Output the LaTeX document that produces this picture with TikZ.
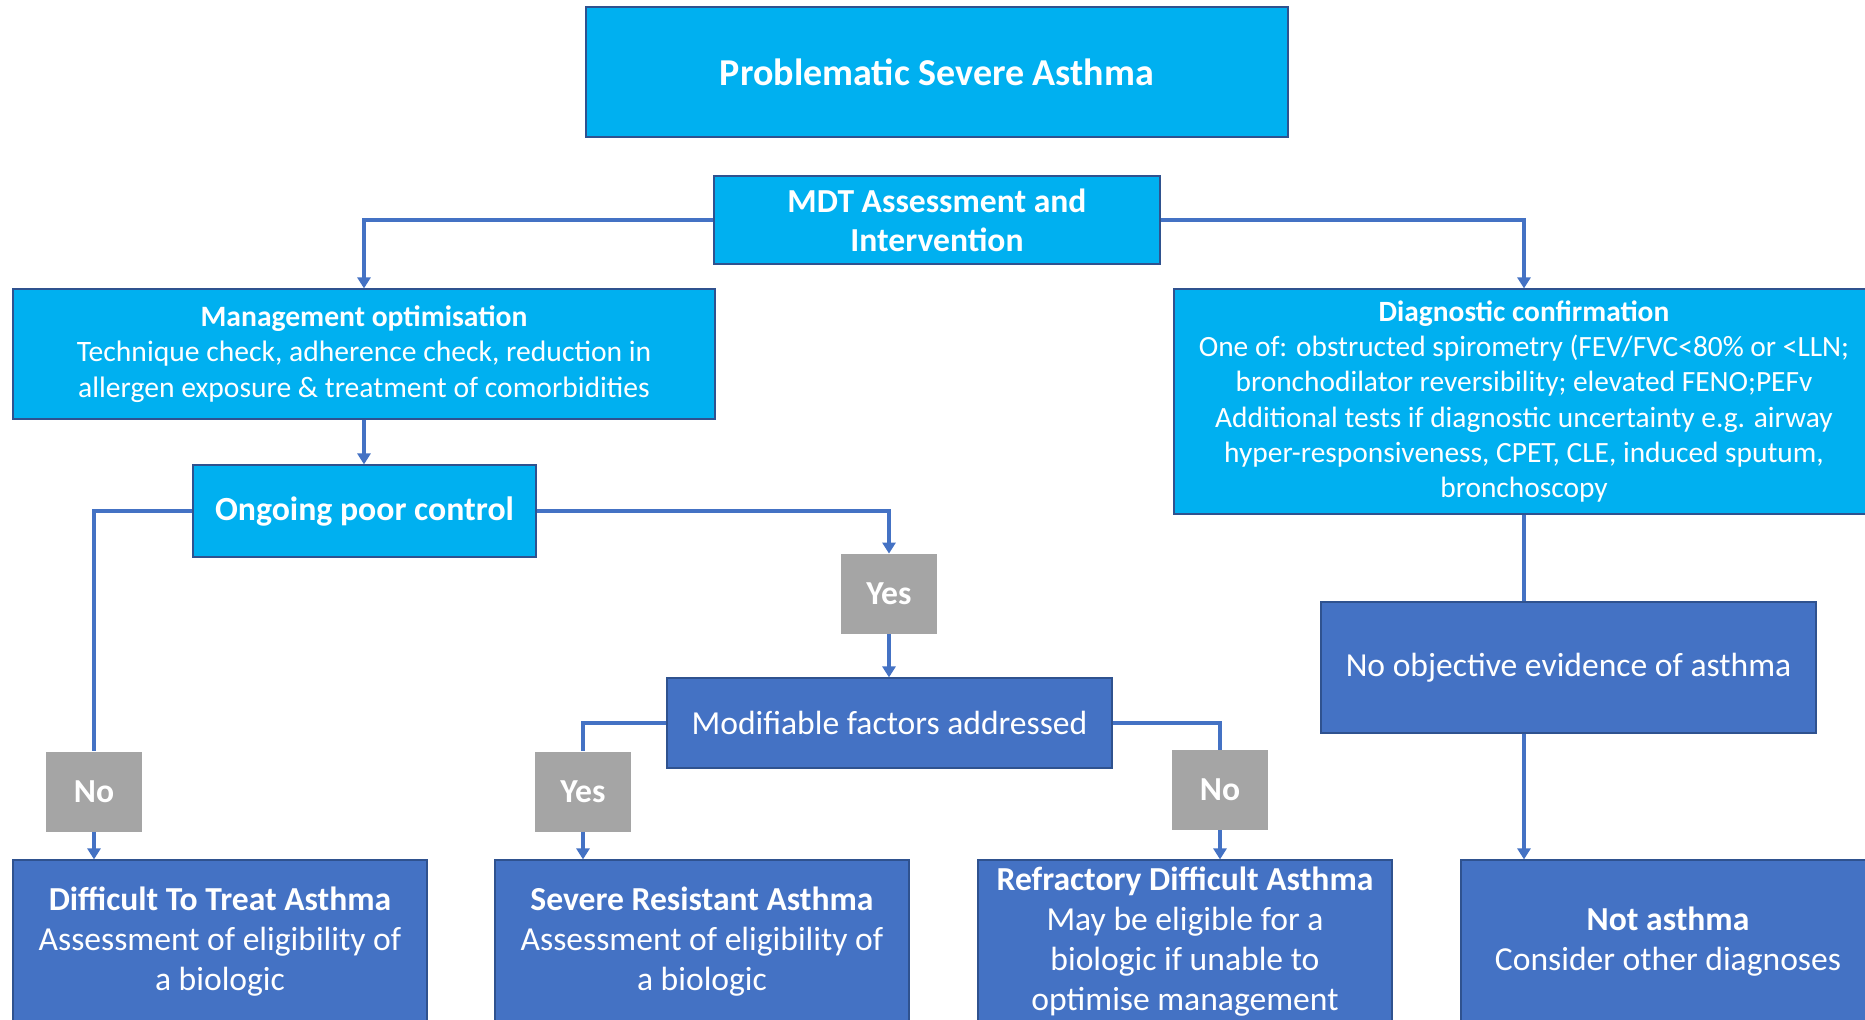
\documentclass[tikz,border=0pt]{standalone}
\usepackage{fontspec}
\setmainfont{Carlito}
\usepackage{tikz}
\usetikzlibrary{arrows.meta,shapes}
\usepackage{xcolor}
\definecolor{pacyan}{RGB}{0,176,240}
\definecolor{pablue}{RGB}{68,114,196}
\definecolor{pagrey}{RGB}{165,165,165}
\definecolor{paedge}{RGB}{47,82,143}
\tikzstyle{cyanbox} = [rectangle, align=center, draw=paedge, line width=0.6pt, fill=pacyan, text=white, inner sep=0pt]
\tikzstyle{bluebox} = [rectangle, align=center, draw=paedge, line width=0.6pt, fill=pablue, text=white, inner sep=0pt]
\tikzstyle{greybox} = [rectangle, align=center, fill=pagrey, text=white, font=\fontsize{16.8}{19}\selectfont\bfseries, minimum width=48pt, minimum height=40pt]
\tikzstyle{arrow} = [line width=1.6pt,-{Triangle[width=6.5pt,length=5.5pt]},color=pablue]
\tikzstyle{conn} = [line width=1.6pt,color=pablue]

\begin{document}
\begin{tikzpicture}[x=0.5pt,y=-0.5pt]
\useasboundingbox (0,0) rectangle (1865,1019);
\clip (0,0) rectangle (1865,1019);
% Top of the pathway
\node (psa) [cyanbox, minimum width=351pt, minimum height=65pt, font=\fontsize{19}{22}\selectfont\bfseries] at (937,72) {Problematic Severe Asthma};
\node (mdt) [cyanbox, minimum width=223pt, minimum height=44pt, font=\fontsize{16.8}{19.5}\selectfont\bfseries] at (937,220) {MDT Assessment and\\Intervention};
\node (mgmt) [cyanbox, minimum width=351pt, minimum height=65pt, font=\fontsize{14.8}{17.8}\selectfont] at (364,354) {\textbf{Management optimisation}\\Technique check, adherence check, reduction in\\allergen exposure \& treatment of comorbidities};
\node (diag) [cyanbox, minimum width=350pt, minimum height=112.5pt, font=\fontsize{14.7}{17.6}\selectfont] at (1524,401.5) {\textbf{Diagnostic confirmation}\\One of: obstructed spirometry (FEV/FVC<80\% or <LLN;\\bronchodilator reversibility; elevated FENO;PEFv\\Additional tests if diagnostic uncertainty e.g. airway\\hyper-responsiveness, CPET, CLE, induced sputum,\\bronchoscopy};

% Middle decisions
\node (poor) [cyanbox, minimum width=171.5pt, minimum height=46pt, font=\fontsize{16.9}{19}\selectfont\bfseries] at (364.5,511) {Ongoing poor control};
\node (yes1) [greybox] at (889,594) {Yes};
\node (modif) [bluebox, minimum width=222.5pt, minimum height=45pt, font=\fontsize{16.8}{19}\selectfont] at (889.5,723) {Modifiable factors addressed};
\node (noobj) [bluebox, minimum width=247.5pt, minimum height=65.5pt, font=\fontsize{16.8}{19}\selectfont] at (1568.5,667.5) {No objective evidence of asthma};
\node (no1) [greybox] at (94,791.5) {No};
\node (yes2) [greybox] at (583,791.5) {Yes};
\node (no2) [greybox] at (1220,790) {No};

% Outcomes
\node (dta) [bluebox, minimum width=207pt, minimum height=82pt, font=\fontsize{16.8}{20}\selectfont] at (220,942) {\textbf{Difficult To Treat Asthma}\\Assessment of eligibility of\\a biologic};
\node (sra) [bluebox, minimum width=207pt, minimum height=82pt, font=\fontsize{16.8}{20}\selectfont] at (702,942) {\textbf{Severe Resistant Asthma}\\Assessment of eligibility of\\a biologic};
\node (rda) [bluebox, minimum width=207pt, minimum height=82pt, font=\fontsize{16.8}{20}\selectfont] at (1185,942) {\textbf{Refractory Difficult Asthma}\\May be eligible for a\\biologic if unable to\\optimise management};
\node (nota) [bluebox, minimum width=207pt, minimum height=82pt, font=\fontsize{16.8}{20}\selectfont] at (1668,942) {\textbf{Not asthma}\\Consider other diagnoses};

% Connectors
\draw[arrow] (mdt.west) -| (mgmt.north);
\draw[arrow] (mdt.east) -| (diag.north);
\draw[arrow] (mgmt.south) -- (mgmt.south |- poor.north);
\draw[conn] (poor.west) -| (no1.north);
\draw[arrow] (no1.south) -- (no1.south |- dta.north);
\draw[arrow] (poor.east) -| (yes1.north);
\draw[arrow] (yes1.south) -- (yes1.south |- modif.north);
\draw[conn] (modif.west) -| (yes2.north);
\draw[arrow] (yes2.south) -- (yes2.south |- sra.north);
\draw[conn] (modif.east) -| (no2.north);
\draw[arrow] (no2.south) -- (no2.south |- rda.north);
\draw[conn] (diag.south) -- (diag.south |- noobj.north);
\draw[arrow] (diag.south |- noobj.south) -- (diag.south |- nota.north);
\end{tikzpicture}
\end{document}
